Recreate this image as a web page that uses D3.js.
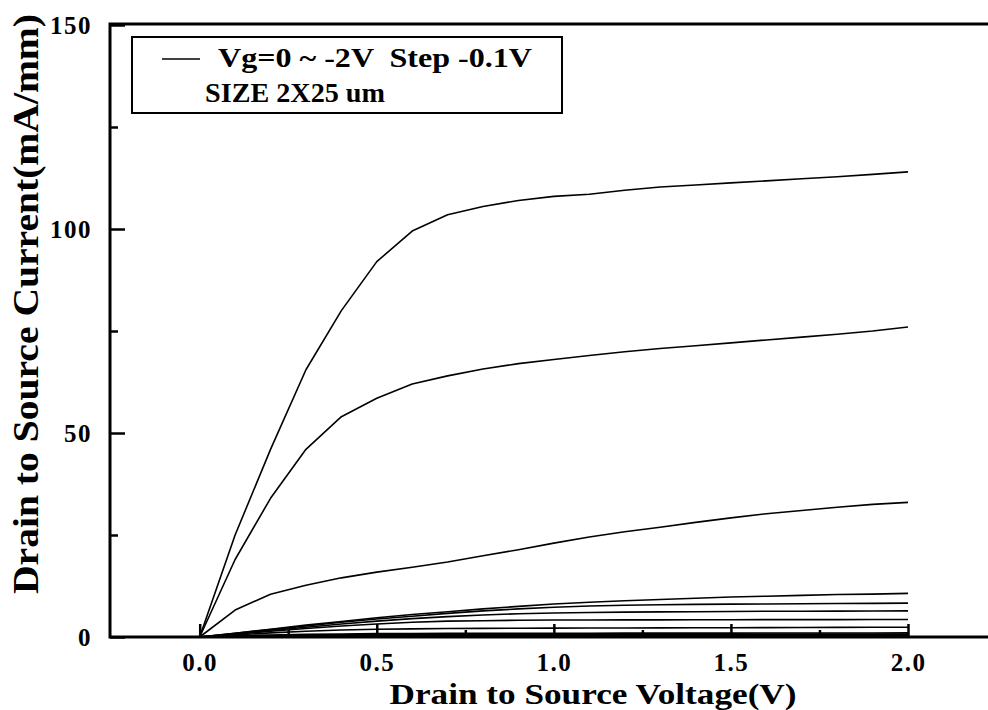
<!DOCTYPE html>
<html><head><meta charset="utf-8">
<script src="https://cdn.jsdelivr.net/npm/d3@7/dist/d3.min.js"></script>
<style>
html,body{margin:0;padding:0;background:#fff;}
svg{display:block;}
text{font-family:"Liberation Serif","Times New Roman",serif;font-weight:bold;fill:#000;}
</style></head>
<body>
<svg id="chart" width="988" height="710"></svg>
<script>
// ---- data ----
const vds = [0,0.1,0.2,0.3,0.4,0.5,0.6,0.7,0.8,0.9,1.0,1.1,1.2,1.3,1.4,1.5,1.6,1.7,1.8,1.9,2.0];
const xTicksMajor = [0,0.5,1.0,1.5,2.0];
const xTicksMinor = [0.25,0.75,1.25,1.75];
const yTicksMajor = [0,50,100,150];
const yTicksMinor = [25,75,125];
const idVg00 = [0,25,46,65.5,80,92,99.5,103.5,105.5,107,108,108.5,109.5,110.3,110.8,111.3,111.8,112.3,112.8,113.4,114];
const idVg01 = [0,19,34,46,54,58.5,62,64,65.7,67,68,69,69.9,70.7,71.4,72.1,72.8,73.5,74.2,75,76];
const idVg02 = [0,6.6,10.5,12.7,14.5,15.9,17.1,18.4,19.9,21.4,23,24.5,25.8,26.9,28.1,29.2,30.2,31,31.8,32.5,33];
const idVg03 = [0,0.9,1.9,2.9,3.8,4.7,5.5,6.2,6.9,7.5,8.1,8.5,8.9,9.2,9.5,9.8,10.0,10.2,10.4,10.5,10.7];
const idVg04 = [0,0.9,1.8,2.7,3.6,4.4,5.1,5.8,6.4,6.9,7.3,7.6,7.8,7.9,8.0,8.05,8.1,8.15,8.2,8.25,8.3];
const idVg05 = [0,0.8,1.6,2.4,3.2,3.9,4.5,5.0,5.4,5.7,5.9,6.0,6.1,6.15,6.2,6.25,6.3,6.32,6.35,6.38,6.4];
const idVg06 = [0,0.7,1.4,2.1,2.7,3.2,3.6,3.9,4.0,4.1,4.15,4.17,4.19,4.2,4.22,4.23,4.25,4.26,4.27,4.28,4.3];
const idVg07 = [0,0.5,1.0,1.4,1.7,1.9,2.0,2.1,2.12,2.15,2.18,2.2,2.22,2.24,2.26,2.28,2.3,2.32,2.35,2.38,2.4];
const idVg08 = [0,0.3,0.5,0.65,0.75,0.82,0.86,0.88,0.9,0.91,0.92,0.93,0.94,0.95,0.96,0.96,0.97,0.98,0.98,0.99,1.0];
const idVg09 = [0,0.2,0.35,0.45,0.52,0.57,0.6,0.62,0.64,0.65,0.66,0.67,0.68,0.68,0.69,0.69,0.7,0.7,0.7,0.71,0.71];
const idVg10 = [0,0.17,0.3,0.38,0.44,0.47,0.5,0.51,0.52,0.53,0.53,0.54,0.54,0.55,0.55,0.55,0.55,0.56,0.56,0.56,0.56];
const idVg11 = [0,0.14,0.25,0.32,0.37,0.4,0.41,0.42,0.43,0.43,0.44,0.44,0.44,0.45,0.45,0.45,0.45,0.45,0.46,0.46,0.46];
const idVg12 = [0,0.12,0.2,0.26,0.29,0.31,0.32,0.33,0.33,0.34,0.34,0.34,0.35,0.35,0.35,0.35,0.35,0.36,0.36,0.36,0.36];
const idVg13 = [0,0.1,0.17,0.21,0.24,0.26,0.27,0.27,0.28,0.28,0.28,0.29,0.29,0.29,0.29,0.29,0.3,0.3,0.3,0.3,0.3];
const idVg14 = [0,0.08,0.14,0.17,0.19,0.2,0.21,0.21,0.22,0.22,0.22,0.22,0.23,0.23,0.23,0.23,0.23,0.23,0.24,0.24,0.24];
const idVg15 = [0,0.06,0.1,0.13,0.14,0.15,0.16,0.16,0.16,0.17,0.17,0.17,0.17,0.17,0.17,0.18,0.18,0.18,0.18,0.18,0.18];
const idVg16 = [0,0.05,0.08,0.1,0.11,0.11,0.12,0.12,0.12,0.12,0.12,0.13,0.13,0.13,0.13,0.13,0.13,0.13,0.13,0.13,0.13];
const idVg17 = [0,0.03,0.05,0.06,0.07,0.07,0.08,0.08,0.08,0.08,0.08,0.08,0.08,0.08,0.09,0.09,0.09,0.09,0.09,0.09,0.09];
const idVg18 = [0,0.02,0.03,0.04,0.04,0.05,0.05,0.05,0.05,0.05,0.05,0.05,0.05,0.05,0.05,0.05,0.05,0.05,0.05,0.06,0.06];
const idVg19 = [0,0.01,0.02,0.02,0.02,0.02,0.03,0.03,0.03,0.03,0.03,0.03,0.03,0.03,0.03,0.03,0.03,0.03,0.03,0.03,0.03];
const idVg20 = [0,0,0.01,0.01,0.01,0.01,0.01,0.01,0.01,0.01,0.01,0.01,0.01,0.01,0.01,0.01,0.01,0.01,0.01,0.01,0.01];
const series = [idVg00,idVg01,idVg02,idVg03,idVg04,idVg05,idVg06,idVg07,idVg08,idVg09,idVg10,
                idVg11,idVg12,idVg13,idVg14,idVg15,idVg16,idVg17,idVg18,idVg19,idVg20];
const xTitle = "Drain to Source Voltage(V)";
const yTitle = "Drain to Source Current(mA/mm)";
const legendLine1 = "Vg=0 ~ -2V  Step -0.1V";
const legendLine2 = "SIZE 2X25 um";

// ---- layout ----
const svg = d3.select("#chart");
const frame = {left:110, right:988, top:24, bottom:637};
const x = d3.scaleLinear().domain([0,2]).range([199.7,908]);
const y = d3.scaleLinear().domain([0,150]).range([637,25]);

// curves
const line = d3.line().x((d,i)=>x(vds[i])).y(d=>y(d));
svg.append("g").selectAll("path").data(series).join("path")
  .attr("d", line).attr("fill","none").attr("stroke","#000")
  .attr("stroke-width",1.6).attr("stroke-linejoin","round");

// axes ticks
const xMaj = svg.append("g").attr("transform",`translate(0,${frame.bottom})`)
  .call(d3.axisBottom(x).tickValues(xTicksMajor).tickFormat(d3.format(".1f")).tickSize(-13).tickPadding(16));
const xMin = svg.append("g").attr("transform",`translate(0,${frame.bottom})`)
  .call(d3.axisBottom(x).tickValues(xTicksMinor).tickFormat("").tickSize(-7));
const yMaj = svg.append("g").attr("transform",`translate(${frame.left},0)`)
  .call(d3.axisLeft(y).tickValues(yTicksMajor).tickFormat(d3.format("d")).tickSize(-15).tickPadding(18));
const yMin = svg.append("g").attr("transform",`translate(${frame.left},0)`)
  .call(d3.axisLeft(y).tickValues(yTicksMinor).tickFormat("").tickSize(-8));
[xMaj,xMin,yMaj,yMin].forEach(g=>{
  g.select(".domain").remove();
  g.selectAll(".tick line").attr("stroke","#000").attr("stroke-width",2.5);
  g.selectAll(".tick text").style("font-size","25px").style("letter-spacing","1.5px")
    .style("font-family",'"Liberation Serif","Times New Roman",serif').style("font-weight","bold").attr("fill","#000");
});

// frame lines (left, top, bottom)
svg.append("path")
  .attr("d",`M${frame.right},${frame.top}H${frame.left}V${frame.bottom}H${frame.right}`)
  .attr("fill","none").attr("stroke","#000").attr("stroke-width",3);

// axis titles
svg.append("text").attr("x",593).attr("y",704).attr("text-anchor","middle")
  .style("font-size","29px").attr("textLength",407).attr("lengthAdjust","spacingAndGlyphs").text(xTitle);
svg.append("text").attr("transform","translate(38,304) rotate(-90)").attr("text-anchor","middle")
  .style("font-size","35px").attr("textLength",580).attr("lengthAdjust","spacingAndGlyphs").text(yTitle);

// legend
svg.append("rect").attr("x",132).attr("y",37).attr("width",430).attr("height",76)
  .attr("fill","#fff").attr("stroke","#000").attr("stroke-width",2);
svg.append("line").attr("x1",162).attr("x2",200).attr("y1",59).attr("y2",59)
  .attr("stroke","#000").attr("stroke-width",1.3);
svg.append("text").attr("x",218).attr("y",67).style("font-size","27px").style("white-space","pre")
  .attr("textLength",314).attr("lengthAdjust","spacingAndGlyphs").text(legendLine1);
svg.append("text").attr("x",205).attr("y",102).style("font-size","27px")
  .attr("textLength",180).attr("lengthAdjust","spacingAndGlyphs").text(legendLine2);
</script>
</body></html>
